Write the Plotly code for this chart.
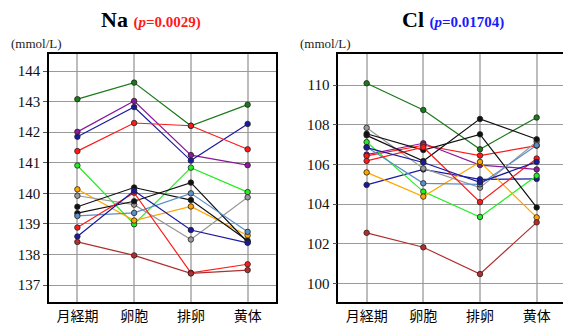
import plotly.graph_objects as go

categories = ["月経期", "卵胞", "排卵", "黄体"]

series_names = ["darkgreen", "purple", "navy1", "red1", "lime", "orange", "gray",
                "black1", "black2", "steelblue", "red2", "navy2", "brown"]
series_colors = ["#1a7a1a", "#8b1a9b", "#1a1aa0", "#ff1a1a", "#22ee22", "#ffa500", "#999999",
                 "#111111", "#111111", "#5a8fc8", "#ff1a1a", "#1a1aa0", "#b03030"]

na_values = [
    [143.08, 143.62, 142.21, 142.90],   # darkgreen
    [142.01, 143.02, 141.25, 140.92],   # purple
    [141.85, 142.82, 141.07, 142.27],   # navy1
    [141.38, 142.30, 142.21, 141.44],   # red1
    [140.91, 138.99, 140.84, 140.04],   # lime
    [140.13, 139.11, 139.57, 138.62],   # orange
    [139.92, 139.63, 138.49, 139.87],   # gray
    [139.56, 140.19, 139.78, 138.45],   # black1
    [139.35, 139.74, 140.35, 138.40],   # black2
    [139.26, 139.36, 140.00, 138.74],   # steelblue
    [138.88, 140.02, 137.40, 137.68],   # red2
    [138.59, 140.08, 138.80, 138.38],   # navy2
    [138.41, 137.97, 137.38, 137.49],   # brown
]

cl_values = [
    [110.10, 108.75, 106.77, 108.37],   # darkgreen
    [106.50, 107.07, 105.97, 105.75],   # purple
    [104.97, 105.75, 105.25, 105.27],   # navy1
    [106.43, 106.97, 106.45, 106.95],   # red1
    [107.13, 104.63, 103.35, 105.43],   # lime
    [105.60, 104.38, 106.13, 103.33],   # orange
    [107.85, 105.80, 104.83, 107.15],   # gray
    [107.47, 106.17, 108.30, 107.27],   # black1
    [107.55, 106.73, 107.52, 103.83],   # black2
    [106.88, 105.05, 105.00, 106.97],   # steelblue
    [106.18, 106.87, 104.10, 106.30],   # red2
    [106.85, 106.10, 105.10, 106.13],   # navy2
    [102.55, 101.82, 100.47, 103.08],   # brown
]

na_ticks = [137, 138, 139, 140, 141, 142, 143, 144]
cl_ticks = [100, 102, 104, 106, 108, 110]

fig = go.Figure()
W, H = 563, 325

for vals, xa, ya in [(na_values, "x", "y"), (cl_values, "x2", "y2")]:
    for name, col, v in zip(series_names, series_colors, vals):
        fig.add_trace(go.Scatter(
            x=categories, y=v, mode="lines+markers", name=name,
            line=dict(color=col, width=1.2),
            marker=dict(size=5.5, color=col, line=dict(color="#222", width=0.8)),
            xaxis=xa, yaxis=ya, showlegend=False, hoverinfo="skip"))

serif = "Times New Roman, Liberation Serif, serif"
cjk = "Noto Sans CJK JP"

xcommon = dict(type="category", showline=True, linecolor="black", linewidth=1.5,
               showgrid=True, gridcolor="#bdbdbd", gridwidth=2, ticks="",
               tickfont=dict(family=cjk, size=14, color="black"), zeroline=False)
ycommon = dict(showline=True, linecolor="black", linewidth=1.5,
               showgrid=True, gridcolor="#9a9a9a", gridwidth=1.3,
               ticks="outside", ticklen=4, tickcolor="#555", tickwidth=1,
               tickfont=dict(family=serif, size=15, color="#111"), zeroline=False)

ydom = [(H - 305) / H, (H - 55) / H]
fig.update_layout(
    width=W, height=H, margin=dict(l=0, r=0, t=0, b=0),
    paper_bgcolor="white", plot_bgcolor="white",
    xaxis=dict(xcommon, domain=[49 / W, 276 / W], range=[-0.5, 3.5], mirror=True),
    yaxis=dict(ycommon, domain=ydom, range=[136.44, 144.54], tickvals=na_ticks, mirror=True),
    xaxis2=dict(xcommon, domain=[338.3 / W, 1.0], range=[-0.5, 3.5 - (565 - 563) / 56.7],
                mirror=True, anchor="y2"),
    yaxis2=dict(ycommon, domain=ydom, range=[99.05, 111.55], tickvals=cl_ticks,
                mirror=False, anchor="x2"),
)

fig.add_annotation(
    x=151 / W, y=1 - 20 / H, xref="paper", yref="paper", showarrow=False,
    xanchor="center", yanchor="middle",
    text="<b>Na</b> <b><span style='color:#ff1a1a;font-size:15px'>(<i>p</i>=0.0029)</span></b>",
    font=dict(family=serif, size=22, color="black"))
fig.add_annotation(
    x=453 / W, y=1 - 20 / H, xref="paper", yref="paper", showarrow=False,
    xanchor="center", yanchor="middle",
    text="<b>Cl</b> <b><span style='color:#1a1aff;font-size:15px'>(<i>p</i>=0.01704)</span></b>",
    font=dict(family=serif, size=22, color="black"))
for xpx in (9, 298):
    fig.add_annotation(
        x=xpx / W, y=1 - 44 / H, xref="paper", yref="paper", showarrow=False,
        xanchor="left", yanchor="middle", text="(mmol/L)",
        font=dict(family=serif, size=13, color="#222"))

fig.write_html("out.html")
